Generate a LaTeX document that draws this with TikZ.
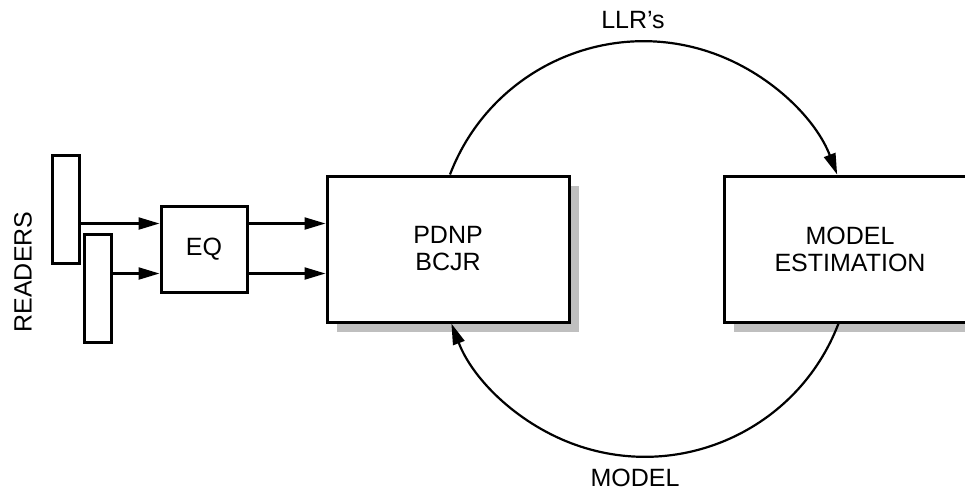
\documentclass[tikz,border=0pt]{standalone}
\usepackage{fontspec}
\setmainfont{Liberation Sans}
\usetikzlibrary{arrows.meta,shadows}
\begin{document}
\begin{tikzpicture}[x=1pt,y=-1pt,
  every node/.style={font=\fontsize{25}{27}\selectfont},
  block/.style={draw,line width=3pt,fill=white,inner sep=0pt,align=center},
  shadowed/.style={drop shadow={shadow xshift=10pt,shadow yshift=-10pt,fill=black!25,opacity=1}},
  reader/.style={draw,line width=3pt,fill=white,inner sep=0pt,minimum width=27pt,minimum height=108pt},
  arr/.style={line width=2.2pt,-{Triangle[length=21pt,width=12pt]}},
  label/.style={inner sep=0pt}]
\useasboundingbox (0,0) rectangle (965,491);
\clip (0,0) rectangle (965,491);

% read heads
\node[reader] (r1) at (65.5,209) {};
\node[reader] (r2) at (97.5,288) {};
\node[label,rotate=90] (readers) at (23,272) {READERS};

% processing blocks
\node[block,minimum width=86pt,minimum height=86pt] (eq) at (204,249) {EQ};
\node[block,shadowed,minimum width=242pt,minimum height=146pt] (pdnp) at (448,249) {PDNP\\BCJR};
\node[block,shadowed,minimum width=252pt,minimum height=146pt] (est) at (850,249) {MODEL\\ESTIMATION};

% reader outputs into the equalizer
\draw[arr] (r1.east |- 0,223.5) -- (eq.west |- 0,223.5);
\draw[arr] (r2.east |- 0,273.5) -- (eq.west |- 0,273.5);
% equalizer outputs into the detector
\draw[arr] (eq.east |- 0,223.5) -- (pdnp.west |- 0,223.5);
\draw[arr] (eq.east |- 0,273.5) -- (pdnp.west |- 0,273.5);

% iterative loop between detector and estimator
\draw[arr] ([xshift=2pt]pdnp.north) arc[start angle=159.1,end angle=20.9,radius=207.2pt];
\draw[arr] ([xshift=-11.5pt]est.south) arc[start angle=-20.9,end angle=-159.1,radius=207.2pt];

\node[label,anchor=base] (llr) at (633,28) {LLR’s};
\node[label,anchor=base] (model) at (635,486) {MODEL};
\end{tikzpicture}
\end{document}
